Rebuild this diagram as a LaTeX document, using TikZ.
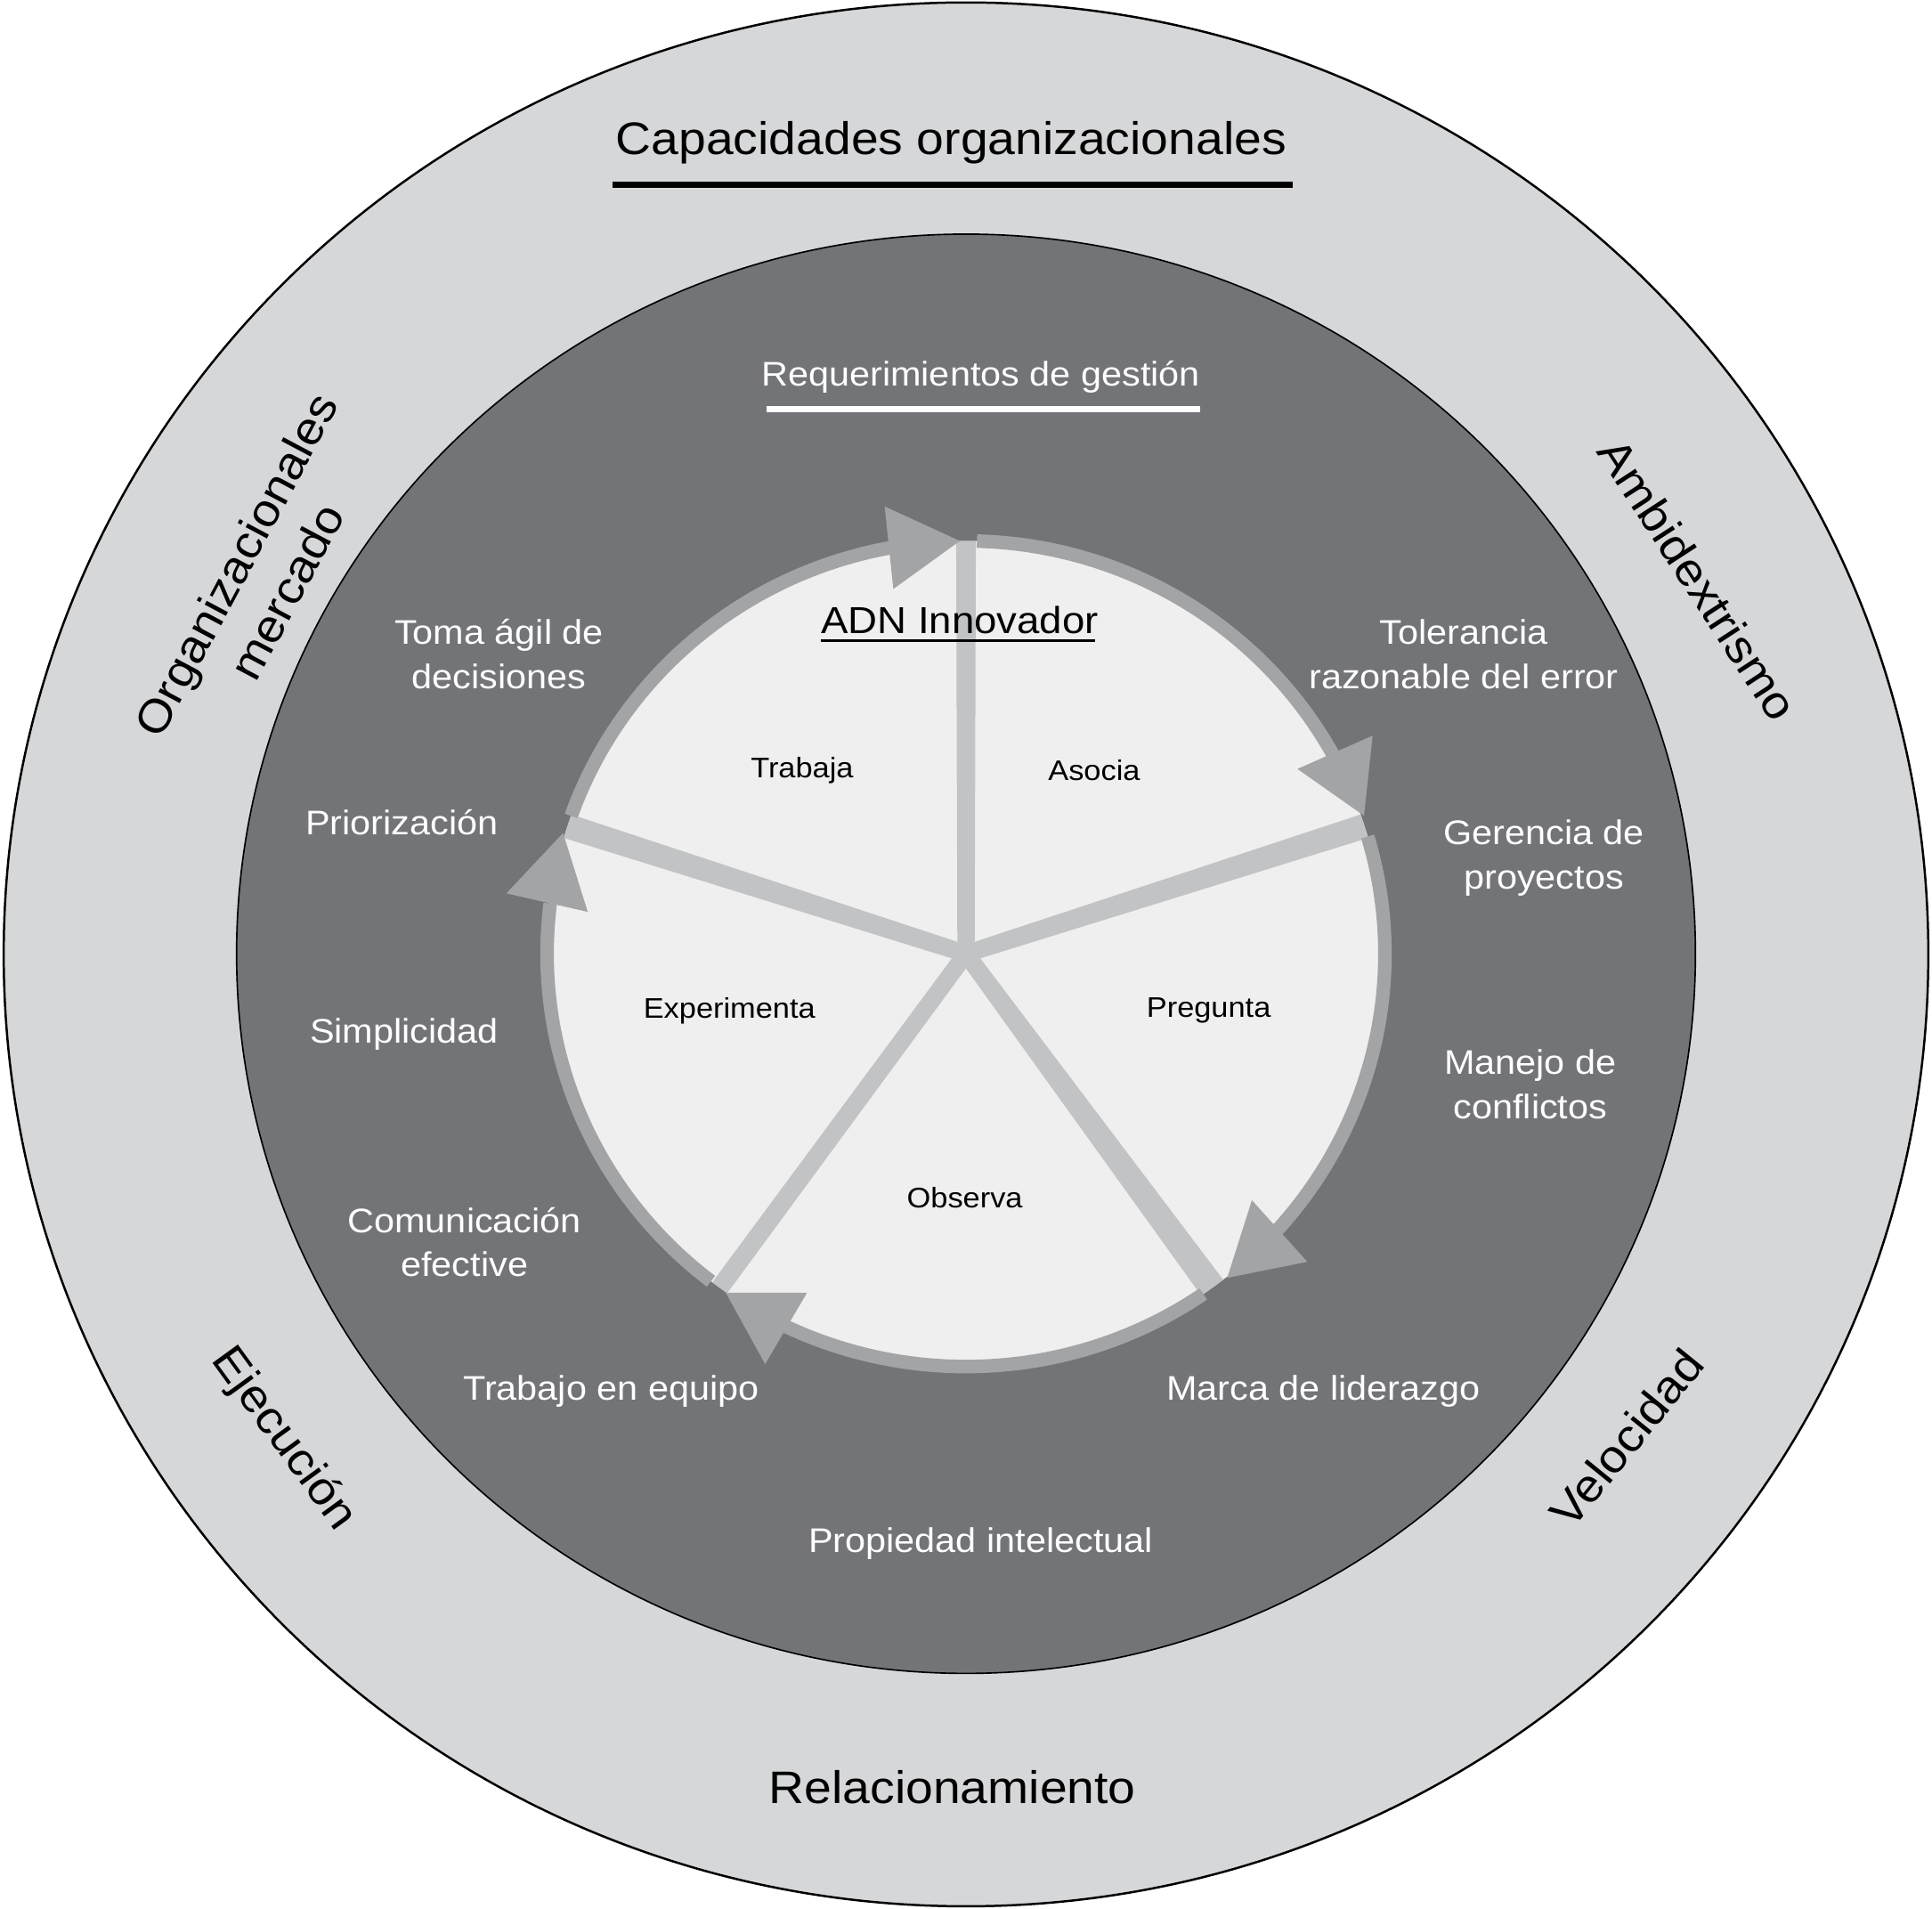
\documentclass[tikz,border=0pt]{standalone}
\usepackage{fontspec}
\setmainfont{Liberation Sans}[FakeStretch=1.08]
\usetikzlibrary{calc}
\definecolor{outerfill}{HTML}{D6D7D9}
\definecolor{darkfill}{HTML}{737477}
\definecolor{discfill}{HTML}{EFEFEF}
\definecolor{spokecol}{HTML}{C2C3C5}
\definecolor{ringcol}{HTML}{A3A4A6}
\newcommand\myspoke[3]{\fill[spokecol] ($(C)!#2!90:(#1)$) -- ($(#1)!#3!-90:(C)$) -- ($(#1)!#3!90:(C)$) -- ($(C)!#2!-90:(#1)$) -- cycle;}
\newcommand\myarc[2]{\draw[ringarc] ($(C)+(#1:340pt and 335pt)$) arc[start angle=#1, end angle=#2, x radius=340pt, y radius=335pt];}
\begin{document}
\begin{tikzpicture}[x=1pt,y=1pt,
  outerlbl/.style={font=\fontsize{37}{47}\selectfont, text=black, align=center, inner sep=0pt},
  whitelbl/.style={font=\fontsize{27.7}{36}\selectfont, text=white, align=center, inner sep=0pt},
  innerlbl/.style={font=\fontsize{23}{28}\selectfont, text=black, inner sep=0pt},
  ringarc/.style={draw=ringcol, line width=11pt},
  arrowtri/.style={fill=ringcol}]
\useasboundingbox (0,-1549) rectangle (1568,0);
\fill[white] (0,-1549) rectangle (1568,0);
% circles
\filldraw[fill=outerfill, draw=black, line width=1.8pt] (784,-774.5) ellipse [x radius=781pt, y radius=772.5pt];
\filldraw[fill=darkfill, draw=black, line width=1.2pt] (784,-774) ellipse [x radius=592pt, y radius=584pt];
\coordinate (C) at (784,-774);
\fill[discfill] (C) ellipse [x radius=340pt, y radius=335pt];
% spoke ends
\coordinate (S1) at ($(C)+(90:340pt and 335pt)$);
\coordinate (S2) at ($(C)+(18:340pt and 335pt)$);
\coordinate (S3) at ($(C)+(-54:340pt and 335pt)$);
\coordinate (S4) at ($(C)+(-126:340pt and 335pt)$);
\coordinate (S5) at ($(C)+(162:340pt and 335pt)$);
\myspoke{S1}{7pt}{8pt}
\myspoke{S2}{7pt}{10pt}
\myspoke{S3}{7pt}{11pt}
\myspoke{S4}{7pt}{7.5pt}
\myspoke{S5}{7pt}{10pt}
% ring arcs
\myarc{160.5}{99}
\myarc{88.5}{28}
\myarc{16.5}{-43}
\myarc{-55.5}{-116}
\myarc{-127.5}{-187}
% arrowheads
\fill[arrowtri] (718,-411) -- (779,-439) -- (725,-478) -- cycle;
\fill[arrowtri] (1053,-624) -- (1114,-597) -- (1107,-662) -- cycle;
\fill[arrowtri] (1016,-974) -- (1061,-1024) -- (996,-1037) -- cycle;
\fill[arrowtri] (589,-1049) -- (655,-1049) -- (621,-1107) -- cycle;
\fill[arrowtri] (457,-676) -- (411,-725) -- (477,-740) -- cycle;
% outer labels
\node[outerlbl] (cap) at (772,-116) {Capacidades organizacionales};
\coordinate (capL) at (497,-150);
\coordinate (capR) at (1049,-150);
\draw[line width=5pt] (capL) -- (capR);
\node[outerlbl, rotate=62] (org) at (212,-469) {Organizacionales\\mercado};
\node[outerlbl, rotate=-57] (amb) at (1378,-470) {Ambidextrismo};
\node[outerlbl, rotate=-54] (eje) at (230,-1168) {Ejecución};
\node[outerlbl, rotate=51] (vel) at (1320,-1167) {Velocidad};
\node[outerlbl] (rel) at (773,-1450) {Relacionamiento};
% management requirements
\node[whitelbl] (req) at (796,-306) {Requerimientos de gestión};
\coordinate (reqL) at (622,-332);
\coordinate (reqR) at (974,-332);
\draw[white, line width=5pt] (reqL) -- (reqR);
\node[whitelbl] (toma) at (405,-531) {Toma ágil de\\decisiones};
\node[whitelbl] (tol) at (1188,-531) {Tolerancia\\razonable del error};
\node[whitelbl] (prio) at (326,-667) {Priorización};
\node[whitelbl] (ger) at (1253,-696) {Gerencia de\\proyectos};
\node[whitelbl] (simp) at (328,-839) {Simplicidad};
\node[whitelbl] (man) at (1242,-880) {Manejo de\\conflictos};
\node[whitelbl] (com) at (377,-1008) {Comunicación\\efective};
\node[whitelbl] (team) at (496,-1129) {Trabajo en equipo};
\node[whitelbl] (marca) at (1074,-1129) {Marca de liderazgo};
\node[whitelbl] (prop) at (796,-1253) {Propiedad intelectual};
% inner
\node[font=\fontsize{30.5}{36}\selectfont, inner sep=0pt] (adn) at (779,-503) {ADN Innovador};
\coordinate (adnL) at (666,-520);
\coordinate (adnR) at (889,-520);
\draw[line width=2.6pt] (adnL) -- (adnR);
\node[innerlbl] (trab) at (651,-625) {Trabaja};
\node[innerlbl] (aso) at (888,-625) {Asocia};
\node[innerlbl] (exp) at (592,-820) {Experimenta};
\node[innerlbl] (pre) at (981,-820) {Pregunta};
\node[innerlbl] (obs) at (783,-972) {Observa};
\end{tikzpicture}
\end{document}
